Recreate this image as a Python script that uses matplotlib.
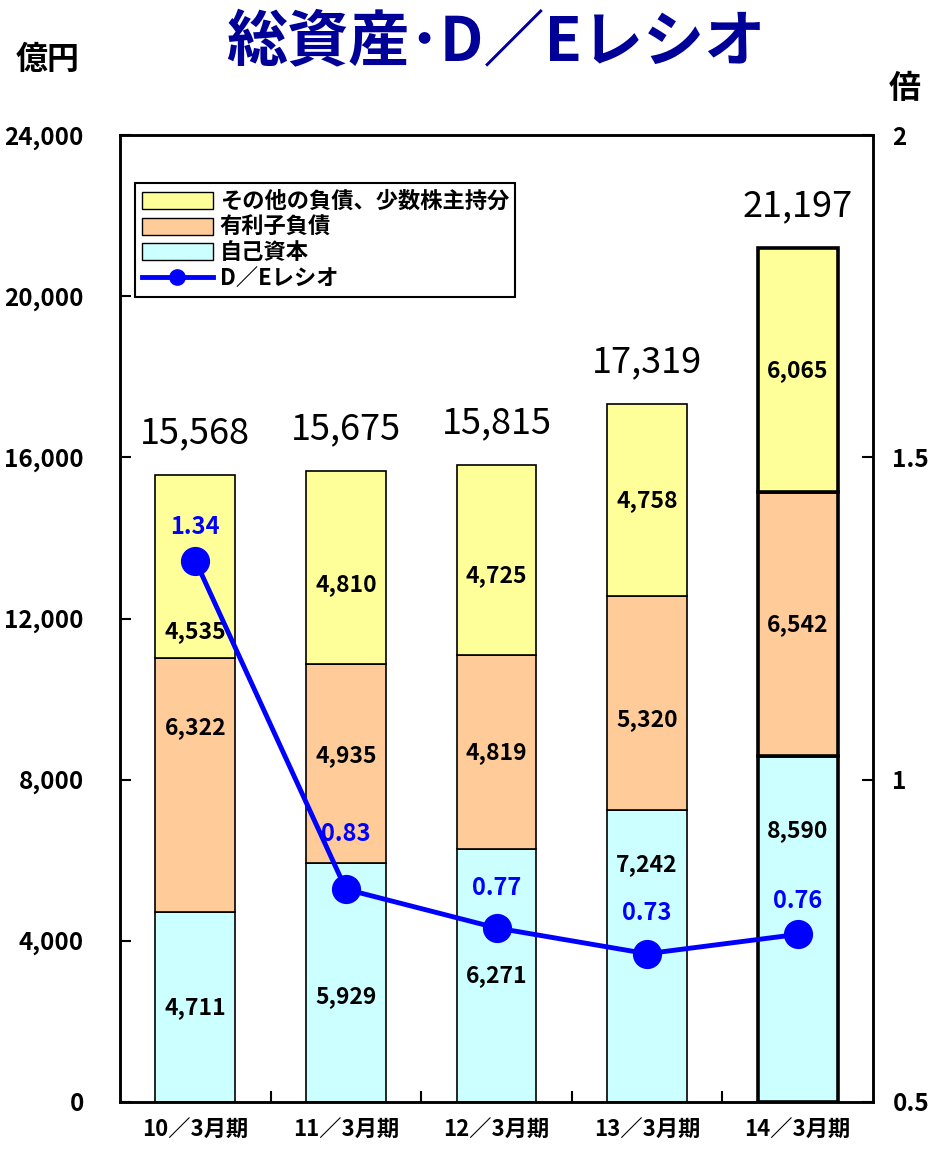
import matplotlib
matplotlib.use("Agg")
from matplotlib import pyplot as plt
from matplotlib.patches import Patch
from matplotlib.lines import Line2D
import numpy as np

plt.rcParams['font.family'] = ['Noto Sans CJK JP', 'DejaVu Sans']

periods = ["10／3月期", "11／3月期", "12／3月期", "13／3月期", "14／3月期"]
equity = [4711, 5929, 6271, 7242, 8590]        # 自己資本
debt = [6322, 4935, 4819, 5320, 6542]          # 有利子負債
other = [4535, 4810, 4725, 4758, 6065]         # その他の負債、少数株主持分
totals = [15568, 15675, 15815, 17319, 21197]
de_ratio = [1.34, 0.83, 0.77, 0.73, 0.76]

# label nudges (points) so the numbers stay clear of the ratio line
nudge_other = [-47, -12, -11, 0, 0]
nudge_debt = [41, 6, 0, -12, 0]
nudge_equity = [0, -10, 0, 66, 71]
nudge_ratio = [24, 40, 29, 29, 24]

c_other = "#FFFF99"
c_debt = "#FFCC99"
c_equity = "#CCFFFF"
c_line = "#0000FF"

fig = plt.figure(figsize=(9.4, 11.51), dpi=100)
ax = fig.add_axes([0.1277, 0.0426, 0.801, 0.840])
x = np.arange(len(periods))
w = 0.53
lws = [1.2, 1.2, 1.2, 1.2, 2.6]

equity = np.array(equity)
debt = np.array(debt)
other = np.array(other)
ax.bar(x, equity, w, color=c_equity, edgecolor="black", linewidth=lws, zorder=2)
ax.bar(x, debt, w, bottom=equity, color=c_debt, edgecolor="black", linewidth=lws, zorder=2)
ax.bar(x, other, w, bottom=equity + debt, color=c_other, edgecolor="black", linewidth=lws, zorder=2)

lab_kw = dict(ha="center", va="center", fontsize=16.5, fontweight="bold",
              textcoords="offset points", zorder=3)
for i in range(len(x)):
    ax.annotate(f"{equity[i]:,}", (x[i], equity[i] / 2), xytext=(0, nudge_equity[i]), **lab_kw)
    ax.annotate(f"{debt[i]:,}", (x[i], equity[i] + debt[i] / 2), xytext=(0, nudge_debt[i]), **lab_kw)
    ax.annotate(f"{other[i]:,}", (x[i], equity[i] + debt[i] + other[i] / 2),
                xytext=(0, nudge_other[i]), **lab_kw)
    ax.annotate(f"{totals[i]:,}", (x[i], totals[i]), xytext=(0, 30), textcoords="offset points",
                ha="center", va="center", fontsize=26)

ax.set_xlim(-0.5, len(x) - 0.5)
ax.set_ylim(0, 24000)
ax.set_yticks(np.arange(0, 24001, 4000))
ax.set_yticklabels([f"{v:,}" for v in range(0, 24001, 4000)], fontsize=17.5, fontweight="bold")
ax.tick_params(axis="y", direction="in", length=8, width=1.5, pad=26)
ax.set_xticks(x)
ax.set_xticklabels(periods, fontsize=16, fontweight="bold")
ax.tick_params(axis="x", which="major", length=0, pad=12)
ax.set_xticks(x[:-1] + 0.5, minor=True)
ax.tick_params(axis="x", which="minor", direction="in", length=8, width=1.5)
for s in ax.spines.values():
    s.set_linewidth(1.8)

ax2 = ax.twinx()
ax2.plot(x, de_ratio, color=c_line, linewidth=3.5, marker="o", markersize=20, zorder=4)
for i in range(len(x)):
    ax2.annotate(f"{de_ratio[i]:.2f}", (x[i], de_ratio[i]), xytext=(0, nudge_ratio[i]),
                 textcoords="offset points", ha="center", va="center",
                 fontsize=17, fontweight="bold", color=c_line)
ax2.set_ylim(0.5, 2)
ax2.set_yticks([0.5, 1, 1.5, 2])
ax2.set_yticklabels(["0.5", "1", "1.5", "2"], fontsize=17.5, fontweight="bold")
ax2.tick_params(axis="y", direction="in", length=8, width=1.5, pad=14)
for s in ax2.spines.values():
    s.set_linewidth(1.8)

handles = [Patch(facecolor=c_other, edgecolor="black"),
           Patch(facecolor=c_debt, edgecolor="black"),
           Patch(facecolor=c_equity, edgecolor="black"),
           Line2D([], [], color=c_line, linewidth=3.5, marker="o", markersize=11)]
names = ["その他の負債、少数株主持分", "有利子負債", "自己資本", "D／Eレシオ"]
leg = ax2.legend(handles, names, loc="upper left", bbox_to_anchor=(0.02, 0.95),
                 borderaxespad=0, fancybox=False, framealpha=1, edgecolor="black",
                 prop={"size": 16, "weight": "bold"}, handlelength=3.2, handleheight=0.8,
                 handletextpad=0.3, labelspacing=0.12, borderpad=0.3)
leg.get_frame().set_linewidth(1.5)

fig.text(0.527, 0.962, "総資産･D／Eレシオ", ha="center", va="center",
         fontsize=44, fontweight="bold", color="#000099")
fig.text(0.051, 0.948, "億円", ha="center", va="center", fontsize=23, fontweight="bold")
fig.text(0.962, 0.923, "倍", ha="center", va="center", fontsize=23, fontweight="bold")

fig.savefig("out.png", dpi=100)
